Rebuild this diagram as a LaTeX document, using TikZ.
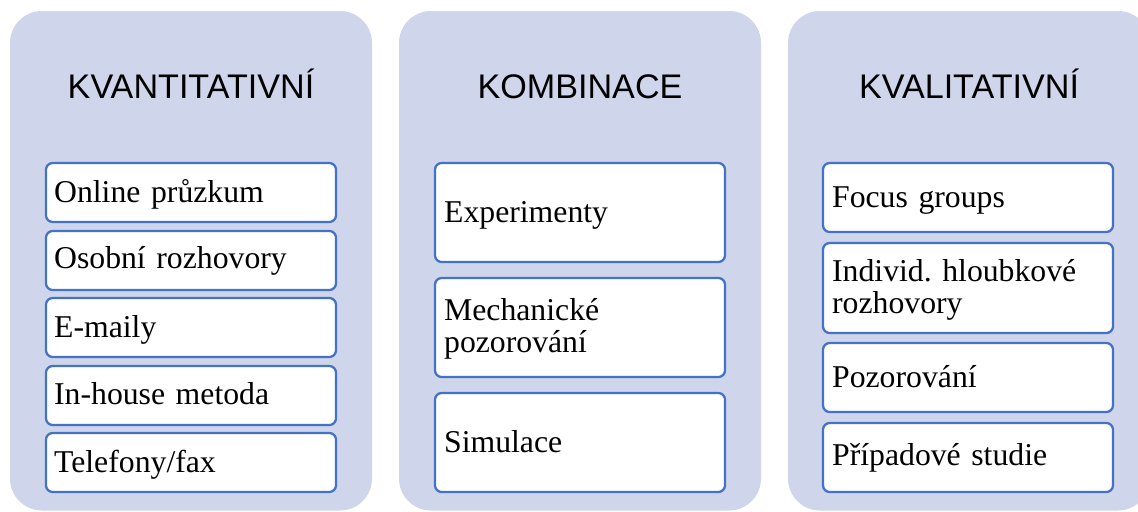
\documentclass[tikz,border=0pt]{standalone}
\usepackage{fontspec}
\setmainfont{Liberation Serif}
\newfontfamily\headfont{Liberation Sans}
\usetikzlibrary{calc}
\definecolor{bgcol}{HTML}{CFD5EA}
\definecolor{edgecol}{HTML}{4472C4}
\tikzset{
  colbg/.style={fill=bgcol, draw=none, rounded corners=24pt},
  box/.style={draw=edgecol, fill=white, line width=1.7pt, rounded corners=5pt,
    rectangle, inner sep=0pt, minimum width=217.5pt},
  head/.style={font=\headfont\fontsize{25.6pt}{30pt}\selectfont, inner sep=0pt, anchor=base, text=black},
  item/.style={font=\frenchspacing\fontsize{23.8pt}{24pt}\selectfont, inner sep=0pt, anchor=base west,
    text width=200pt, align=left, text=black},
}
\begin{document}
\begin{tikzpicture}[x=0.75pt, y=-0.75pt]
\useasboundingbox (0,0) rectangle (1138,511);
\clip (0,0) rectangle (1138,511);
% column backgrounds
\path[colbg] (10,11) rectangle (372,510.5);
\path[colbg] (399,11) rectangle (761,510.5);
\path[colbg] (788,11) rectangle (1150,510.5);
% headers
\node[head] (h1) at (191,98.3) {KVANTITATIVNÍ};
\node[head] (h2) at (580,98.3) {KOMBINACE};
\node[head] (h3) at (969,98.3) {KVALITATIVNÍ};
% column 1
\node[box, minimum height=44.25pt] (a1) at (191,192.5) {};
\node[box, minimum height=44.25pt] (a2) at (191,260.5) {};
\node[box, minimum height=44.25pt] (a3) at (191,327.5) {};
\node[box, minimum height=44.25pt] (a4) at (191,395.5) {};
\node[box, minimum height=44.25pt] (a5) at (191,462.5) {};
\node[item] (ta1) at ($(a1.west)+(9,9.5)$) {Online průzkum};
\node[item] (ta2) at ($(a2.west)+(9,8)$) {Osobní rozhovory};
\node[item] (ta3) at ($(a3.west)+(9,9.5)$) {E-maily};
\node[item] (ta4) at ($(a4.west)+(9,8.5)$) {In-house metoda};
\node[item] (ta5) at ($(a5.west)+(9,9.5)$) {Telefony/fax};
% column 2
\node[box, minimum height=74.25pt] (b1) at (580,212.5) {};
\node[box, minimum height=74.25pt] (b2) at (580,327.5) {};
\node[box, minimum height=74.25pt] (b3) at (580,442.5) {};
\node[item] (tb1) at ($(b1.west)+(10,9.5)$) {Experimenty};
\node[item] (tb2) at ($(b2.west)+(10,-7)$) {Mechanické\\pozorování};
\node[item] (tb3) at ($(b3.west)+(10,9.5)$) {Simulace};
% column 3
\node[box, minimum height=51.75pt] (c1) at (968,197.5) {};
\node[box, minimum height=67.5pt] (c2) at (968,288) {};
\node[box, minimum height=51.75pt] (c3) at (968,377.5) {};
\node[box, minimum height=51.75pt] (c4) at (968,457.5) {};
\node[item] (tc1) at ($(c1.west)+(10,9.5)$) {Focus groups};
\node[item] (tc2) at ($(c2.west)+(10,-7)$) {Individ. hloubkové\\rozhovory};
\node[item] (tc3) at ($(c3.west)+(10,9.5)$) {Pozorování};
\node[item] (tc4) at ($(c4.west)+(10,8)$) {Případové studie};
\end{tikzpicture}
\end{document}
